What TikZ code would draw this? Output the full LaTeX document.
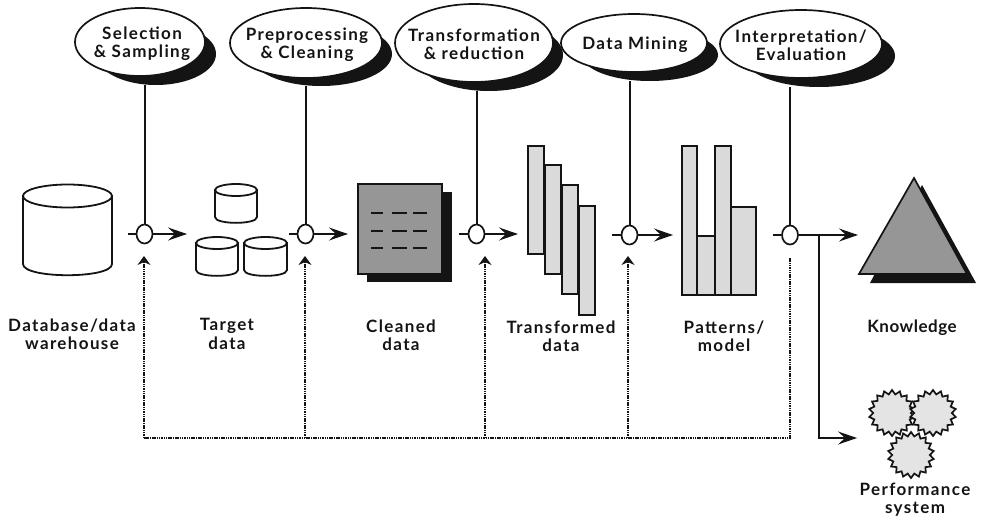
\documentclass[tikz,border=0pt]{standalone}
\usepackage{fontspec}
\setmainfont{Lato}[LetterSpace=8.0]
\usetikzlibrary{shapes.geometric,arrows.meta}
\definecolor{ink}{HTML}{141414}
\definecolor{midgray}{HTML}{969696}
\definecolor{lightgray2}{HTML}{DADADA}
\definecolor{gearfill}{HTML}{E4E4E4}
\tikzset{
  lab/.style={font=\fontsize{17}{18.3}\selectfont\bfseries,text=ink,align=center,inner sep=0pt},
  oval/.style={ellipse,draw=ink,line width=1.7pt,fill=white,inner sep=0pt},
  ovalshadow/.style={ellipse,fill=ink,inner sep=0pt},
  joint/.style={ellipse,draw=ink,line width=1.7pt,fill=white,minimum width=16pt,minimum height=19pt,inner sep=0pt},
  flow/.style={draw=ink,line width=1.8pt,-{Stealth[length=19pt,width=13pt,inset=7pt]}},
  stem/.style={draw=ink,line width=2pt},
  back/.style={draw=ink,line width=2pt,dash pattern=on 1.5pt off 0.8pt},
  backup/.style={back,-{Stealth[length=9pt,width=13pt,inset=3pt,fill=ink]}},
  bar/.style={draw=ink,line width=1.8pt,fill=lightgray2},
  cyl/.style={draw=ink,line width=1.8pt,fill=white},
  gear/.style={star,star points=18,star point ratio=1.22,draw=ink,line width=1.7pt,fill=gearfill,minimum size=46pt,inner sep=0pt},
}
\newcommand{\cylshape}[5]{% x1 x2 top bottom ry
  \path[cyl] (#1,#3) -- (#1,#4) .. controls (#1,#4+1.3*#5) and (#2,#4+1.3*#5) .. (#2,#4) -- (#2,#3) -- cycle;
  \path[cyl] ({(#1+#2)/2},#3) ellipse [x radius={(#2-#1)/2},y radius=#5];
}
\begin{document}
\begin{tikzpicture}[x=1pt,y=-1pt]
\useasboundingbox (0,0) rectangle (981,519);
% shadows
\node[ovalshadow,minimum width=120pt,minimum height=62pt] (s1) at (156,54) {};
\node[ovalshadow,minimum width=142pt,minimum height=64pt] (s2) at (321,54) {};
\node[ovalshadow,minimum width=148pt,minimum height=72pt] (s3) at (489,55) {};
\node[ovalshadow,minimum width=136pt,minimum height=52pt] (s4) at (650,55) {};
\node[ovalshadow,minimum width=152pt,minimum height=62pt] (s5) at (819,56) {};
% ovals
\node[oval,minimum width=130pt,minimum height=68pt] (e1) at (140,42) {};
\node[oval,minimum width=152pt,minimum height=70pt] (e2) at (306,43) {};
\node[oval,minimum width=158pt,minimum height=78pt] (e3) at (474,43) {};
\node[oval,minimum width=146pt,minimum height=58pt] (e4) at (634,43) {};
\node[oval,minimum width=162pt,minimum height=68pt] (e5) at (801,44) {};
\node[lab] (n1) at (142,44) {Selection\\\&~Sampling};
\node[lab] (n2) at (307,44.5) {Preprocessing\\\&~Cleaning};
\node[lab] (n3) at (474,44.5) {Transformation\\\&~reduction};
\node[lab] (n4) at (635,45) {Data Mining};
\node[lab] (n5) at (801,45.5) {Interpretation/\\Evaluation};
% joints
\node[joint] (c1) at (144.5,234) {};
\node[joint] (c2) at (305.5,234) {};
\node[joint] (c3) at (476.5,234) {};
\node[joint] (c4) at (629.5,235) {};
\node[joint] (c5) at (790,235) {};
% stems
\foreach \i in {1,...,5}{\draw[stem] (c\i.north) -- (c\i.north |- s\i.south);}
% free ends
\coordinate (l1) at (128,234); \coordinate (r1) at (187,234);
\coordinate (l2) at (289,234); \coordinate (r2) at (348,234);
\coordinate (l3) at (459,234); \coordinate (r3) at (518,234);
\coordinate (l4) at (612,235); \coordinate (r4) at (673,235);
\coordinate (l5) at (773,235); \coordinate (r5) at (858,235);
\foreach \i in {1,...,5}{
  \draw[stem] (l\i) -- (c\i.west);
  \draw[flow] (c\i.east) -- (r\i);
}
% output branch
\coordinate (b0) at (819,235);
\coordinate (b1) at (819,438);
\coordinate (b2) at (857,438);
\draw[flow] (b0) -- (b1) -- (b2);
% feedback
\coordinate (f1) at (144,438); \coordinate (u1) at (144,256);
\coordinate (f2) at (305,438); \coordinate (u2) at (305,256);
\coordinate (f3) at (485,438); \coordinate (u3) at (485,256);
\coordinate (f4) at (628,438); \coordinate (u4) at (628,256);
\coordinate (f5) at (790,438); \coordinate (u5) at (790,258);
\draw[back] (u5) -- (f5) -- (f1);
\foreach \i in {1,...,4}{\draw[backup] (f\i) -- (u\i);}
% database and target data
\cylshape{23}{112}{196}{264}{11.5}
\cylshape{215}{257}{190}{217}{6}
\cylshape{196}{238}{243}{270}{6}
\cylshape{244}{287}{243}{270}{6}
% cleaned data
\fill[ink] (367,192) rectangle (452,282);
\draw[ink,line width=1.8pt,fill=midgray] (358,184) rectangle (442,274);
\foreach \y in {213,231,248}{
  \draw[ink,line width=1.6pt] (371,\y) -- (383,\y) (392,\y) -- (407,\y) (413,\y) -- (427,\y);
}
% transformed data
\draw[bar] (528,146) rectangle (544,254);
\draw[bar] (545,165) rectangle (561,274);
\draw[bar] (562,185) rectangle (578,294);
\draw[bar] (579,206) rectangle (595,315);
% patterns
\draw[bar] (682,146) rectangle (697,295);
\draw[bar] (697,236) rectangle (715,295);
\draw[bar] (715,146) rectangle (731,295);
\draw[bar] (731,207) rectangle (756,295);
% knowledge
\fill[ink] (922,185) -- (976,283) -- (870,283) -- cycle;
\draw[ink,line width=1.7pt,fill=midgray] (914,178) -- (967,274) -- (859,274) -- cycle;
% gears
\node[gear] (g1) at (892,413) {};
\node[gear] (g2) at (933,413) {};
\node[gear] (g3) at (911,455) {};
% labels
\node[lab] (t1) at (72,334) {Database/data\\warehouse};
\node[lab] (t2) at (227,334) {Target\\data};
\node[lab] (t3) at (401,335) {Cleaned\\data};
\node[lab] (t4) at (561,336) {Transformed\\data};
\node[lab] (t5) at (724,336) {Patterns/\\model};
\node[lab] (t6) at (912,328) {\addfontfeature{LetterSpace=3.0}Knowledge};
\node[lab] (t7) at (915,500) {Performance\\system};
\end{tikzpicture}
\end{document}
